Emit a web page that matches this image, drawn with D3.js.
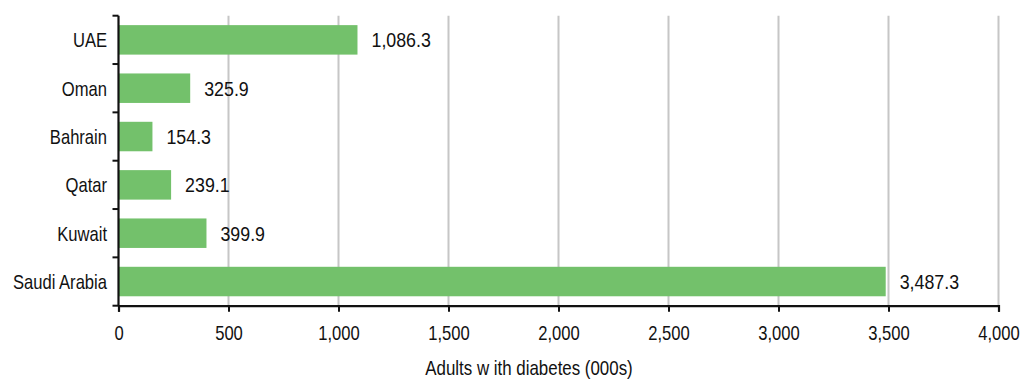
<!DOCTYPE html>
<html>
<head>
<meta charset="utf-8">
<script src="https://cdn.jsdelivr.net/npm/d3@7"></script>
<style>
  html, body { margin: 0; padding: 0; background: #fff; }
  svg text { font-family: "Liberation Sans", Arial, sans-serif; fill: #111; }
</style>
</head>
<body>
<svg id="chart" width="1021" height="380"></svg>
<script>
// Adults with diabetes by GCC country, thousands
const countries = ["UAE", "Oman", "Bahrain", "Qatar", "Kuwait", "Saudi Arabia"];
const adults = [1086.3, 325.9, 154.3, 239.1, 399.9, 3487.3];
const xTicks = [0, 500, 1000, 1500, 2000, 2500, 3000, 3500, 4000];
const xTitle = "Adults w ith diabetes (000s)";

const svg = d3.select("#chart");
const plotLeft = 118.5, plotRight = 998.5, plotTop = 15.7, plotBottom = 305.7;
const fontSize = 20;

const x = d3.scaleLinear().domain([0, 4000]).range([plotLeft, plotRight]);
const y = d3.scaleBand().domain(countries).range([plotTop, plotBottom]).paddingInner(0.39).paddingOuter(0.195);
const fmt = d3.format(",.1f");

// condensed text: placed at (px, py), squeezed horizontally by s
const squeeze = (px, py, s) => `translate(${px},${py}) scale(${s},1)`;

// vertical gridlines
svg.append("g")
  .selectAll("line")
  .data(xTicks.slice(1))
  .join("line")
  .attr("x1", d => x(d)).attr("x2", d => x(d))
  .attr("y1", plotTop).attr("y2", plotBottom)
  .attr("stroke", "#c6c6c6").attr("stroke-width", 2);

// bars
svg.append("g")
  .selectAll("rect")
  .data(countries)
  .join("rect")
  .attr("x", x(0))
  .attr("y", d => y(d))
  .attr("width", (d, i) => x(adults[i]) - x(0))
  .attr("height", y.bandwidth())
  .attr("fill", "#73c16b");

// value labels
svg.append("g")
  .selectAll("text")
  .data(countries)
  .join("text")
  .attr("transform", (d, i) => squeeze(x(adults[i]) + 14, y(d) + y.bandwidth() / 2, 0.89))
  .attr("dy", "0.37em")
  .attr("font-size", fontSize)
  .text((d, i) => fmt(adults[i]));

// x axis
const xAxis = svg.append("g")
  .attr("transform", `translate(0,${plotBottom})`)
  .call(d3.axisBottom(x).tickValues(xTicks).tickFormat(d3.format(",")).tickSizeOuter(0).tickSize(6).tickPadding(14));
xAxis.attr("font-family", null).attr("font-size", null);
xAxis.select(".domain").attr("stroke", "#111").attr("stroke-width", 2.2);
xAxis.selectAll(".tick line").attr("stroke", "#111").attr("stroke-width", 2);
xAxis.selectAll(".tick text")
  .attr("font-size", fontSize)
  .attr("fill", "#111")
  .attr("transform", "scale(0.83,1)");

// y axis: ticks sit on band boundaries
const yAxis = svg.append("g").attr("transform", `translate(${plotLeft},0)`);
yAxis.append("line")
  .attr("x1", 0).attr("x2", 0).attr("y1", plotTop).attr("y2", plotBottom)
  .attr("stroke", "#111").attr("stroke-width", 2.2);
const step = y.step();
yAxis.selectAll("line.tk")
  .data(d3.range(countries.length + 1))
  .join("line")
  .attr("class", "tk")
  .attr("x1", -6).attr("x2", 0)
  .attr("y1", i => plotTop + i * step).attr("y2", i => plotTop + i * step)
  .attr("stroke", "#111").attr("stroke-width", 2);
yAxis.selectAll("text")
  .data(countries)
  .join("text")
  .attr("transform", d => squeeze(-11.5, y(d) + y.bandwidth() / 2, 0.83))
  .attr("dy", "0.37em")
  .attr("text-anchor", "end")
  .attr("font-size", fontSize)
  .text(d => d);

// axis title
svg.append("text")
  .attr("transform", squeeze(529, 375, 0.845))
  .attr("text-anchor", "middle")
  .attr("font-size", fontSize)
  .text(xTitle);
</script>
</body>
</html>
